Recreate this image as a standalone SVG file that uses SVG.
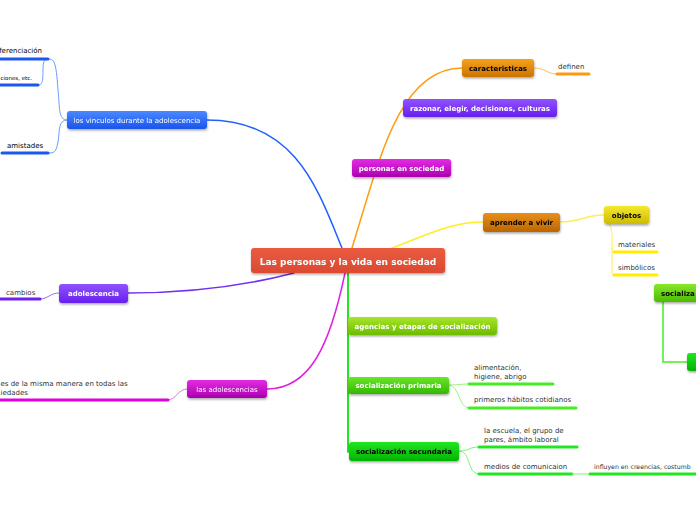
<svg xmlns="http://www.w3.org/2000/svg" width="696" height="520" viewBox="0 0 696 520">
<style>
text{font-family:"DejaVu Sans","Verdana",sans-serif;font-size:7px;}
.b{font-weight:bold}
.w{fill:#ffffff}
.k{fill:#000000}
.t{fill:#333333}
.c{fill:none;stroke-linecap:round}
.ul{fill:none;stroke-width:3;stroke-linecap:round}
</style>
<defs>
<filter id="sh" x="-10%" y="-20%" width="130%" height="160%"><feDropShadow dx="0.5" dy="1.5" stdDeviation="1" flood-color="#000" flood-opacity="0.35"/></filter>
<linearGradient id="gRed" x1="0" y1="0" x2="0" y2="1"><stop offset="0" stop-color="#ea5b41"/><stop offset="1" stop-color="#da4a31"/></linearGradient>
<linearGradient id="gBlue" x1="0" y1="0" x2="0" y2="1"><stop offset="0" stop-color="#4a88ff"/><stop offset="1" stop-color="#1a55ec"/></linearGradient>
<linearGradient id="gPur" x1="0" y1="0" x2="0" y2="1"><stop offset="0" stop-color="#9152ff"/><stop offset="1" stop-color="#6620ee"/></linearGradient>
<linearGradient id="gMag" x1="0" y1="0" x2="0" y2="1"><stop offset="0" stop-color="#e42be4"/><stop offset="1" stop-color="#aa00b0"/></linearGradient>
<linearGradient id="gOr" x1="0" y1="0" x2="0" y2="1"><stop offset="0" stop-color="#f4a21c"/><stop offset="1" stop-color="#cc7400"/></linearGradient>
<linearGradient id="gOr2" x1="0" y1="0" x2="0" y2="1"><stop offset="0" stop-color="#e8901a"/><stop offset="1" stop-color="#bb6600"/></linearGradient>
<linearGradient id="gYel" x1="0" y1="0" x2="0" y2="1"><stop offset="0" stop-color="#f5e830"/><stop offset="1" stop-color="#ccbb00"/></linearGradient>
<linearGradient id="gLime" x1="0" y1="0" x2="0" y2="1"><stop offset="0" stop-color="#a8e52a"/><stop offset="1" stop-color="#6cbc00"/></linearGradient>
<linearGradient id="gGr1" x1="0" y1="0" x2="0" y2="1"><stop offset="0" stop-color="#68e62a"/><stop offset="1" stop-color="#34b800"/></linearGradient>
<linearGradient id="gGr2" x1="0" y1="0" x2="0" y2="1"><stop offset="0" stop-color="#22e622"/><stop offset="1" stop-color="#00b400"/></linearGradient>
<linearGradient id="gGr3" x1="0" y1="0" x2="0" y2="1"><stop offset="0" stop-color="#88e82a"/><stop offset="1" stop-color="#4cbc00"/></linearGradient>
</defs>

<g id="connectors">
<path class="c" d="M342,248 C318,190 296,120 207,120" stroke="#2060ff" stroke-width="1.5"/>
<path class="c" d="M352,248 C378,165 398,68 462,68" stroke="#ff9c10" stroke-width="1.5"/>
<path class="c" d="M294,273 C240,287 180,293 128,293" stroke="#7030f0" stroke-width="1.5"/>
<path class="c" d="M345,273 C330,345 310,389 267,389" stroke="#e020e0" stroke-width="1.5"/>
<path class="c" d="M392,248 C425,236 450,222 483,222" stroke="#ffee22" stroke-width="1.5"/>
<path class="c" d="M348,273 L348,452" stroke="#22e622" stroke-width="2"/>
<path class="c" d="M67,120 C58,120 60,108 58,90 C56,60 54,59 48,59" stroke="#6a9cff" stroke-width="1"/>
<path class="c" d="M67,120 C58,120 60,130 58,142 C56,153 54,153 48,153" stroke="#6a9cff" stroke-width="1"/>
<path class="c" d="M48,59 C44,59 43,62 43,70 C43,83 42,85 38,85" stroke="#6a9cff" stroke-width="1"/>
<path class="ul" d="M-2,59 L48,59" stroke="#1a58f0"/>
<path class="ul" d="M-2,85 L38,85" stroke="#1a58f0"/>
<path class="ul" d="M2,153 L48,153" stroke="#1a58f0"/>
<path class="c" d="M59,293 C50,293 48,299 40,299" stroke="#9a6cff" stroke-width="1"/>
<path class="ul" d="M-2,299 L40,299" stroke="#6a20f0"/>
<path class="c" d="M187,389 C178,389 176,400 168,400" stroke="#ea70ea" stroke-width="1"/>
<path class="ul" d="M-2,400 L168,400" stroke="#e000e0"/>
<path class="c" d="M534,68 C546,68 546,74 557,74" stroke="#ffc060" stroke-width="1"/>
<path class="ul" d="M557,74 L589,74" stroke="#ff9a10"/>
<path class="c" d="M560,222 C580,222 585,215 604,215" stroke="#fff050" stroke-width="1.5"/>
<path class="c" d="M609,224 C612,228 612,232 612,240 C612,250 612,252 614,252 M612,248 L612,270 C612,275 612,275 614,275" stroke="#fff050" stroke-width="1"/>
<path class="ul" d="M614,252 L657,252" stroke="#ffee00"/>
<path class="ul" d="M614,275 L657,275" stroke="#ffee00"/>
<path class="c" d="M663,302 L663,362 L687,362" stroke="#44ee22" stroke-width="1.5"/>
<path class="c" d="M449,385 C458,385 460,384 469,384" stroke="#a0f080" stroke-width="1"/>
<path class="c" d="M449,385 C460,385 458,408 469,408" stroke="#a0f080" stroke-width="1"/>
<path class="ul" d="M469,384 L553,384" stroke="#44ee22"/>
<path class="ul" d="M469,408 L576,408" stroke="#44ee22"/>
<path class="c" d="M459,451 C470,451 468,447 479,447" stroke="#80f080" stroke-width="1"/>
<path class="c" d="M459,451 C472,451 466,474 479,474" stroke="#80f080" stroke-width="1"/>
<path class="ul" d="M479,447 L577,447" stroke="#22e622"/>
<path class="ul" d="M479,474 L572,474" stroke="#22e622"/>
<path class="c" d="M572,474 L590,474" stroke="#80f080" stroke-width="1"/>
<path class="ul" d="M590,474 L698,474" stroke="#22e622"/>
</g>

<g id="root" filter="url(#sh)"><rect x="251" y="248" width="194" height="25" rx="3" fill="url(#gRed)"/><text x="348" y="264.5" text-anchor="middle" class="b w" style="font-size:9px">Las personas y la vida en sociedad</text></g>

<g id="vinculos" filter="url(#sh)"><rect x="67" y="111" width="140" height="18" rx="3" fill="url(#gBlue)"/><text x="137" y="122.5" text-anchor="middle" class="w">los vinculos durante la adolescencia</text></g>
<g id="diferenciacion"><text x="42" y="53" text-anchor="end" class="k">ferenciación</text></g>
<g id="relaciones"><text x="32" y="80" text-anchor="end" class="k" style="font-size:5.5px">ciones, etc.</text></g>
<g id="amistades"><text x="7" y="148" class="k">amistades</text></g>

<g id="adolescencia" filter="url(#sh)"><rect x="59" y="284" width="69" height="19" rx="3" fill="url(#gPur)"/><text x="93.5" y="296" text-anchor="middle" class="b w">adolescencia</text></g>
<g id="cambios"><text x="6" y="294.5" class="t">cambios</text></g>

<g id="las-adolescencias" filter="url(#sh)"><rect x="187" y="380" width="80" height="18" rx="3" fill="url(#gMag)"/><text x="227" y="391.5" text-anchor="middle" class="w">las adolescencias</text></g>
<g id="misma-manera"><text x="0.5" y="385.5" class="t">es de la misma manera en todas las</text><text x="0.5" y="394.5" class="t">iedades</text></g>

<g id="caracteristicas" filter="url(#sh)"><rect x="462" y="59" width="72" height="18" rx="3" fill="url(#gOr)"/><text x="498" y="70.5" text-anchor="middle" class="b k">caracteristicas</text></g>
<g id="definen"><text x="558" y="69" class="t">definen</text></g>

<g id="razonar" filter="url(#sh)"><rect x="403" y="99" width="154" height="18" rx="3" fill="url(#gPur)"/><text x="480" y="110.5" text-anchor="middle" class="b w">razonar, elegir, decisiones, culturas</text></g>

<g id="personas" filter="url(#sh)"><rect x="352" y="159" width="99" height="18" rx="3" fill="url(#gMag)"/><text x="401.5" y="170.5" text-anchor="middle" class="b w">personas en sociedad</text></g>

<g id="aprender" filter="url(#sh)"><rect x="483" y="213" width="77" height="19" rx="3" fill="url(#gOr2)"/><text x="521.5" y="225" text-anchor="middle" class="b k">aprender a vivir</text></g>
<g id="objetos" filter="url(#sh)"><rect x="604" y="206" width="45" height="18" rx="3" fill="url(#gYel)"/><text x="626.5" y="217.5" text-anchor="middle" class="b k">objetos</text></g>
<g id="materiales"><text x="618" y="247" class="t">materiales</text></g>
<g id="simbolicos"><text x="618" y="270" class="t">simbólicos</text></g>

<g id="socializacion-r" filter="url(#sh)"><rect x="654" y="284" width="60" height="18" rx="3" fill="url(#gGr3)"/><text x="661" y="295.5" class="b k">socializa</text></g>
<g id="green-r2" filter="url(#sh)"><rect x="687" y="353" width="30" height="18" rx="3" fill="url(#gGr2)"/></g>

<g id="agencias" filter="url(#sh)"><rect x="348" y="317" width="149" height="18" rx="3" fill="url(#gLime)"/><text x="422.5" y="328.5" text-anchor="middle" class="b w">agencias y etapas de socialización</text></g>

<g id="primaria" filter="url(#sh)"><rect x="348" y="377" width="101" height="17" rx="3" fill="url(#gGr1)"/><text x="398.5" y="388" text-anchor="middle" class="b w">socialización primaria</text></g>
<g id="alimentacion"><text x="474" y="370" class="t">alimentación,</text><text x="474" y="379" class="t">higiene, abrigo</text></g>
<g id="habitos"><text x="474" y="402" class="t">primeros hábitos cotidianos</text></g>

<g id="secundaria" filter="url(#sh)"><rect x="349" y="442" width="110" height="19" rx="3" fill="url(#gGr2)"/><text x="404" y="454" text-anchor="middle" class="b k">socialización secundaria</text></g>
<g id="escuela"><text x="484" y="433" class="t">la escuela, el grupo de</text><text x="484" y="442" class="t">pares, ámbito laboral</text></g>
<g id="medios"><text x="484" y="469" class="t">medios de comunicaion</text></g>
<g id="influyen"><text x="594" y="469" class="t" style="font-size:6.2px">influyen en creencias, costumb</text></g>
</svg>
